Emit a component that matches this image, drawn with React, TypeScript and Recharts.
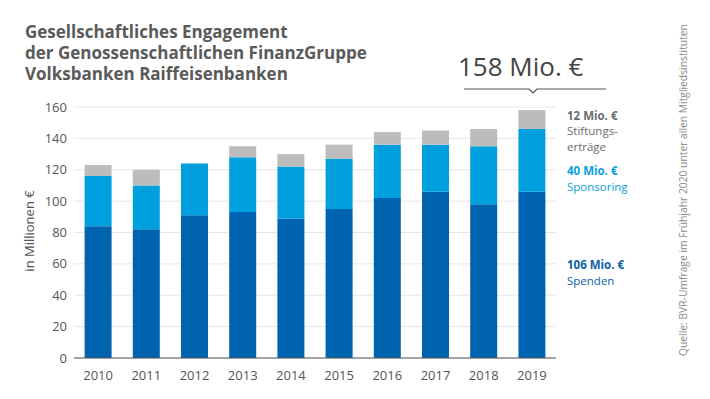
import { Bar, BarChart, CartesianGrid, XAxis, YAxis } from "recharts"

const years = ["2010", "2011", "2012", "2013", "2014", "2015", "2016", "2017", "2018", "2019"]
const spenden = [84, 82, 91, 93, 89, 95, 102, 106, 98, 106]
const sponsoring = [32, 28, 33, 35, 33, 32, 34, 30, 37, 40]
const stiftung = [7, 10, 0, 7, 8, 9, 8, 9, 11, 12]
const yTicks = [0, 20, 40, 60, 80, 100, 120, 140, 160]

const titleLines = [
  "Gesellschaftliches Engagement",
  "der Genossenschaftlichen FinanzGruppe",
  "Volksbanken Raiffeisenbanken",
]
const totalLabel = "158 Mio. €"
const source = "Quelle: BVR-Umfrage im Frühjahr 2020 unter allen Mitgliedsinstituten"

const data = years.map((year, i) => ({
  year,
  spenden: spenden[i],
  sponsoring: sponsoring[i],
  stiftung: stiftung[i],
}))

const FONT = "'Open Sans', 'Noto Sans', sans-serif"
const DARK_BLUE = "#0063af"
const LIGHT_BLUE = "#00a0de"
const GREY = "#bcbcbc"
const TEXT = "#555555"

// right-hand legend blocks (value line in bold, then name lines)
const legendBlocks = [
  { y: 119.5, color: "#6b6b6b", value: "12 Mio. €", lines: ["Stiftungs-", "erträge"] },
  { y: 175, color: "#0aa0dc", value: "40 Mio. €", lines: ["Sponsoring"] },
  { y: 269, color: "#0862aa", value: "106 Mio. €", lines: ["Spenden"] },
]
const LINE = 15.8

export default function App() {
  return (
    <div style={{ position: "fixed", left: 0, top: 0, width: 710, height: 399, background: "#fff", fontFamily: FONT }}>
      <BarChart
        width={710}
        height={399}
        data={data}
        margin={{ top: 107, right: 154, left: 0, bottom: 11 }}
        barCategoryGap="22%"
      >
        <CartesianGrid vertical={false} stroke="#e6e6e6" strokeWidth={1} />
        <XAxis
          dataKey="year"
          height={30}
          tickLine={false}
          axisLine={{ stroke: "#555", strokeWidth: 1 }}
          tick={{ fill: TEXT, fontSize: 13, fontFamily: FONT }}
          tickMargin={7}
        />
        <YAxis
          width={74}
          domain={[0, 160]}
          ticks={yTicks}
          tickLine={false}
          axisLine={false}
          tickSize={0}
          tickMargin={7}
          tick={{ fill: TEXT, fontSize: 13, fontFamily: FONT }}
        />
        <Bar dataKey="spenden" stackId="a" fill={DARK_BLUE} isAnimationActive={false} />
        <Bar dataKey="sponsoring" stackId="a" fill={LIGHT_BLUE} isAnimationActive={false} />
        <Bar dataKey="stiftung" stackId="a" fill={GREY} isAnimationActive={false} />
      </BarChart>

      <svg width={710} height={399} style={{ position: "absolute", left: 0, top: 0, pointerEvents: "none" }}>
        {/* title */}
        {titleLines.map((line, i) => (
          <text key={line} x={25} y={38 + i * 21} fontSize={17} fontWeight={700} fill="#5a5a5a" fontFamily={FONT}>
            {line}
          </text>
        ))}

        {/* axis label */}
        <text
          x={0}
          y={0}
          transform="translate(34,231) rotate(-90)"
          textAnchor="middle"
          fontSize={13}
          fill={TEXT}
          fontFamily={FONT}
        >
          in Millionen €
        </text>

        {/* total callout */}
        <text x={458} y={76} fontSize={26} fill="#444" fontFamily={FONT}>
          {totalLabel}
        </text>
        <polyline points="464,89 529,89 533,93 537,89 606,89" fill="none" stroke="#555" strokeWidth={1.2} />

        {/* right-hand legend */}
        {legendBlocks.map((b) => (
          <g key={b.value} fill={b.color} fontFamily={FONT} fontSize={11.5}>
            <text x={567} y={b.y} fontWeight={700}>{b.value}</text>
            {b.lines.map((l, i) => (
              <text key={l} x={567} y={b.y + LINE * (i + 1)}>{l}</text>
            ))}
          </g>
        ))}

        {/* source */}
        <text
          x={0}
          y={0}
          transform="translate(687,356) rotate(-90)"
          fontSize={10.3}
          fill="#8a8a8a"
          fontFamily={FONT}
        >
          {source}
        </text>
      </svg>
    </div>
  )
}
